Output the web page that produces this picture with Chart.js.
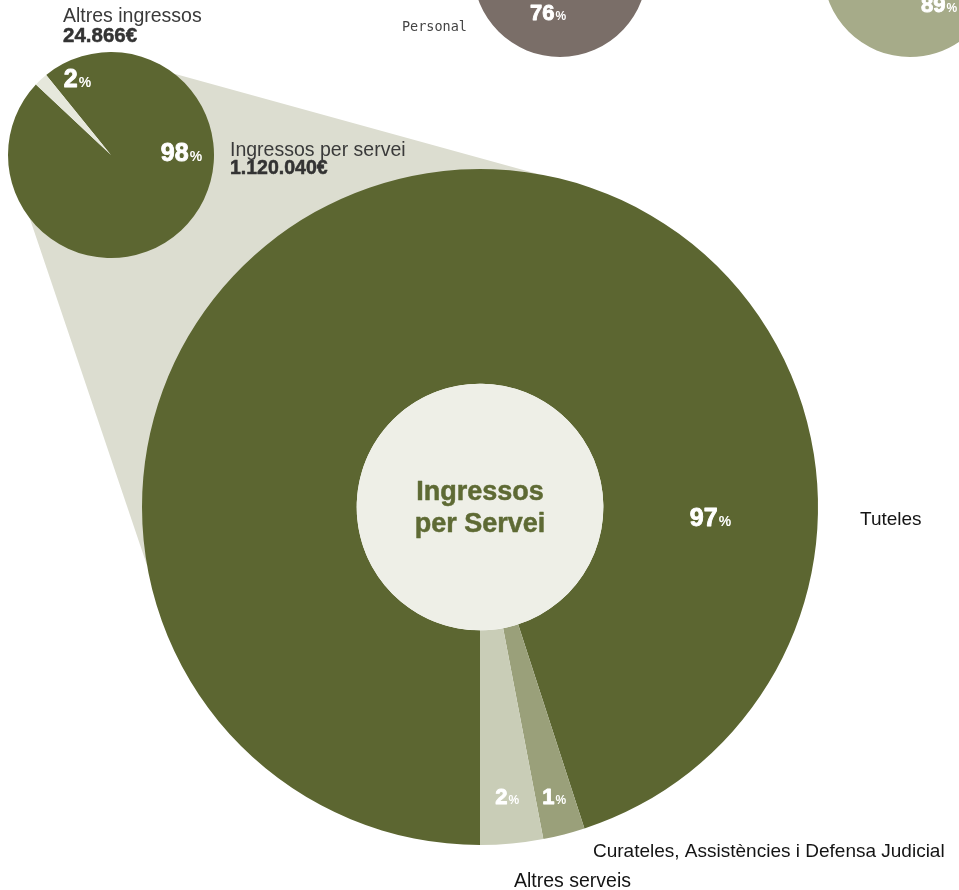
<!DOCTYPE html>
<html lang="ca">
<head>
<meta charset="utf-8">
<title>Ingressos per Servei</title>
<script src="https://cdn.jsdelivr.net/npm/chart.js@4.4.1/dist/chart.umd.min.js"></script>
<style>
  html, body { margin: 0; padding: 0; background: #fff; }
  #stage { position: relative; width: 959px; height: 890px; overflow: hidden; }
  #stage canvas { position: absolute; }
  #main { left: 0; top: 0; }
  #income { left: 8px; top: 52px; }
  #personal { left: 380px; top: -117px; }
  #other { left: 823px; top: -117px; }
</style>
</head>
<body>
<div id="stage">
  <canvas id="main" width="959" height="890"></canvas>
  <canvas id="income" width="206" height="206"></canvas>
  <canvas id="personal" width="267" height="174"></canvas>
  <canvas id="other" width="174" height="174"></canvas>
</div>
<script>
// Ingressos per servei (big doughnut)
const serviceLabels = ['Tuteles', 'Curateles, Assistències i Defensa Judicial', 'Altres serveis'];
const serviceValues = [95, 2, 3];     // slice sizes as drawn
const servicePct = [97, 1, 2];        // percentages printed on the slices
const serviceColors = ['#5c6631', '#9aa07a', '#c9cdb7'];

// Total income split (small pie)
const incomeLabels = ['Ingressos per servei', 'Altres ingressos'];
const incomeValues = [1120040, 24866];
const incomePct = [98, 2];
const incomeColors = ['#5c6631', '#e6e8dc'];

// Partially visible circles at the top
const personalLabels = ['Personal', 'Altres'];
const personalValues = [76, 24];
const otherValues = [89, 11];

const incomeOffset = { left: 8, top: 52 };
const SANS = '"Liberation Sans", Arial, sans-serif';

const euro = v => String(v).replace(/\B(?=(\d{3})+(?!\d))/g, '.') + '€';

// number in big bold, "%" in small bold, centred on (x, midY)
function drawPct(ctx, num, x, midY, size) {
  const small = Math.round(size * 0.56);
  ctx.save();
  ctx.fillStyle = '#ffffff';
  ctx.strokeStyle = '#ffffff';
  ctx.lineWidth = 0.9;
  ctx.lineJoin = 'round';
  ctx.textBaseline = 'alphabetic';
  ctx.textAlign = 'left';
  ctx.font = `bold ${size}px ${SANS}`;
  const w1 = ctx.measureText(String(num)).width;
  ctx.font = `bold ${small}px ${SANS}`;
  const w2 = ctx.measureText('%').width;
  const start = x - (w1 + w2 + 1) / 2;
  const base = midY + size * 0.716 / 2;
  ctx.font = `bold ${size}px ${SANS}`;
  ctx.fillText(String(num), start, base);
  ctx.strokeText(String(num), start, base);
  ctx.font = `bold ${small}px ${SANS}`;
  ctx.fillText('%', start + w1 + 1, base);
  ctx.restore();
}

function text(ctx, str, x, y, font, color, align, heavy) {
  ctx.save();
  ctx.font = font;
  ctx.fillStyle = color;
  ctx.textAlign = align || 'left';
  ctx.textBaseline = 'alphabetic';
  ctx.fillText(str, x, y);
  if (heavy) {
    ctx.strokeStyle = color;
    ctx.lineWidth = heavy;
    ctx.lineJoin = 'round';
    ctx.strokeText(str, x, y);
  }
  ctx.restore();
}

const baseOptions = {
  responsive: false,
  animation: false,
  events: [],
  plugins: { legend: { display: false }, tooltip: { enabled: false } },
  elements: { arc: { borderWidth: 0, hoverOffset: 0 } }
};

// small pie
const incomeChart = new Chart(document.getElementById('income'), {
  type: 'pie',
  data: {
    labels: incomeLabels,
    datasets: [{ data: incomeValues, backgroundColor: incomeColors }]
  },
  options: { ...baseOptions, rotation: -39 },
  plugins: [{
    id: 'incomePct',
    afterDatasetsDraw(chart) {
      const arc = chart.getDatasetMeta(0).data[0];
      const ctx = chart.ctx;
      drawPct(ctx, incomePct[1], arc.x - 33.5, arc.y - 77, 25);
      drawPct(ctx, incomePct[0], arc.x + 70.5, arc.y - 3, 25);
    }
  }]
});

// big doughnut
const mainChart = new Chart(document.getElementById('main'), {
  type: 'doughnut',
  data: {
    labels: serviceLabels,
    datasets: [{ data: serviceValues, backgroundColor: serviceColors }]
  },
  options: {
    ...baseOptions,
    rotation: 180,
    cutout: '36.5%',
    layout: { padding: { left: 142, right: 141, top: 169, bottom: 45 } }
  },
  plugins: [{
    id: 'serviceDecor',
    beforeDatasetsDraw(chart) {
      // light band joining the small pie to the big doughnut
      const big = chart.getDatasetMeta(0).data[0];
      const small = incomeChart.getDatasetMeta(0).data[0];
      const sx = small.x + incomeOffset.left, sy = small.y + incomeOffset.top, sr = small.outerRadius;
      const pt = (x, y, r, deg) => [x + r * Math.cos(deg * Math.PI / 180), y + r * Math.sin(deg * Math.PI / 180)];
      const a = pt(sx, sy, sr, -52);
      const b = pt(big.x, big.y, big.outerRadius, -80);
      const c = pt(big.x, big.y, big.outerRadius, 170);
      const d = pt(sx, sy, sr, 142);
      const ctx = chart.ctx;
      ctx.save();
      ctx.fillStyle = '#dcddd0';
      ctx.beginPath();
      ctx.moveTo(a[0], a[1]);
      ctx.lineTo(b[0], b[1]);
      ctx.lineTo(c[0], c[1]);
      ctx.lineTo(d[0], d[1]);
      ctx.closePath();
      ctx.fill();
      ctx.restore();
    },
    afterDatasetsDraw(chart) {
      const ctx = chart.ctx;
      const arcs = chart.getDatasetMeta(0).data;
      const big = arcs[0];
      const cx = big.x, cy = big.y, ro = big.outerRadius, ri = big.innerRadius;

      // centre disc and title
      ctx.save();
      ctx.fillStyle = '#eeefe7';
      ctx.beginPath();
      ctx.arc(cx, cy, ri, 0, Math.PI * 2);
      ctx.fill();
      ctx.restore();
      text(ctx, 'Ingressos', cx, cy - 7, `bold 27px ${SANS}`, '#5e6a34', 'center', 0.5);
      text(ctx, 'per Servei', cx, cy + 25, `bold 27px ${SANS}`, '#5e6a34', 'center', 0.5);

      // percentages: the big slice at 3 o'clock, small ones on one line near the rim
      const depth = 289;
      arcs.forEach((el, i) => {
        if (i === 0) {
          const rr = (ri + ro) / 2;
          drawPct(ctx, servicePct[i], cx + rr * Math.cos(0.044), cy + rr * Math.sin(0.044), 25);
        } else {
          const ang = (el.startAngle + el.endAngle) / 2;
          drawPct(ctx, servicePct[i], cx + depth * Math.cos(ang) / Math.sin(ang), cy + depth, 22);
        }
      });

      // category labels
      const lab = `19px ${SANS}`;
      text(ctx, serviceLabels[0], cx + ro + 42, cy + 18, lab, '#141414');
      text(ctx, serviceLabels[1], cx + 113, cy + ro + 12, lab, '#141414');
      text(ctx, serviceLabels[2], cx + 34, cy + ro + 42, `19.5px ${SANS}`, '#141414');

      // small pie labels
      const small = incomeChart.getDatasetMeta(0).data[0];
      const sx = small.x + incomeOffset.left, sy = small.y + incomeOffset.top, sr = small.outerRadius;
      text(ctx, incomeLabels[1], sx - 48, sy - sr - 30, `19.5px ${SANS}`, '#3a3a3a');
      text(ctx, euro(incomeValues[1]), sx - 48, sy - sr - 10, `bold 20.5px ${SANS}`, '#333333', 'left', 0.5);
      text(ctx, incomeLabels[0], sx + sr + 16, sy + 1, `19.5px ${SANS}`, '#3a3a3a');
      text(ctx, euro(incomeValues[0]), sx + sr + 16, sy + 19, `bold 19.5px ${SANS}`, '#333333', 'left', 0.5);
    }
  }]
});

// top circles, only their lower part shows
new Chart(document.getElementById('personal'), {
  type: 'pie',
  data: {
    labels: personalLabels,
    datasets: [{ data: personalValues, backgroundColor: ['#7a6e68', '#b5aca6'] }]
  },
  options: { ...baseOptions, rotation: 180 - 76 * 1.8, layout: { padding: { left: 93 } } },
  plugins: [{
    id: 'personalText',
    afterDatasetsDraw(chart) {
      const arc = chart.getDatasetMeta(0).data[0];
      const ctx = chart.ctx;
      drawPct(ctx, personalValues[0], arc.x - 12, arc.y + 42, 22);
      text(ctx, personalLabels[0], arc.x - 93, arc.y + 61, '13.5px "DejaVu Sans Mono", monospace', '#444444', 'right');
    }
  }]
});

new Chart(document.getElementById('other'), {
  type: 'pie',
  data: {
    labels: ['', ''],
    datasets: [{ data: otherValues, backgroundColor: ['#a6ab89', '#d5d8c4'] }]
  },
  options: { ...baseOptions, rotation: 180 - 89 * 1.8 },
  plugins: [{
    id: 'otherText',
    afterDatasetsDraw(chart) {
      const arc = chart.getDatasetMeta(0).data[0];
      drawPct(chart.ctx, otherValues[0], arc.x + 29, arc.y + 34, 22);
    }
  }]
});
</script>
</body>
</html>
